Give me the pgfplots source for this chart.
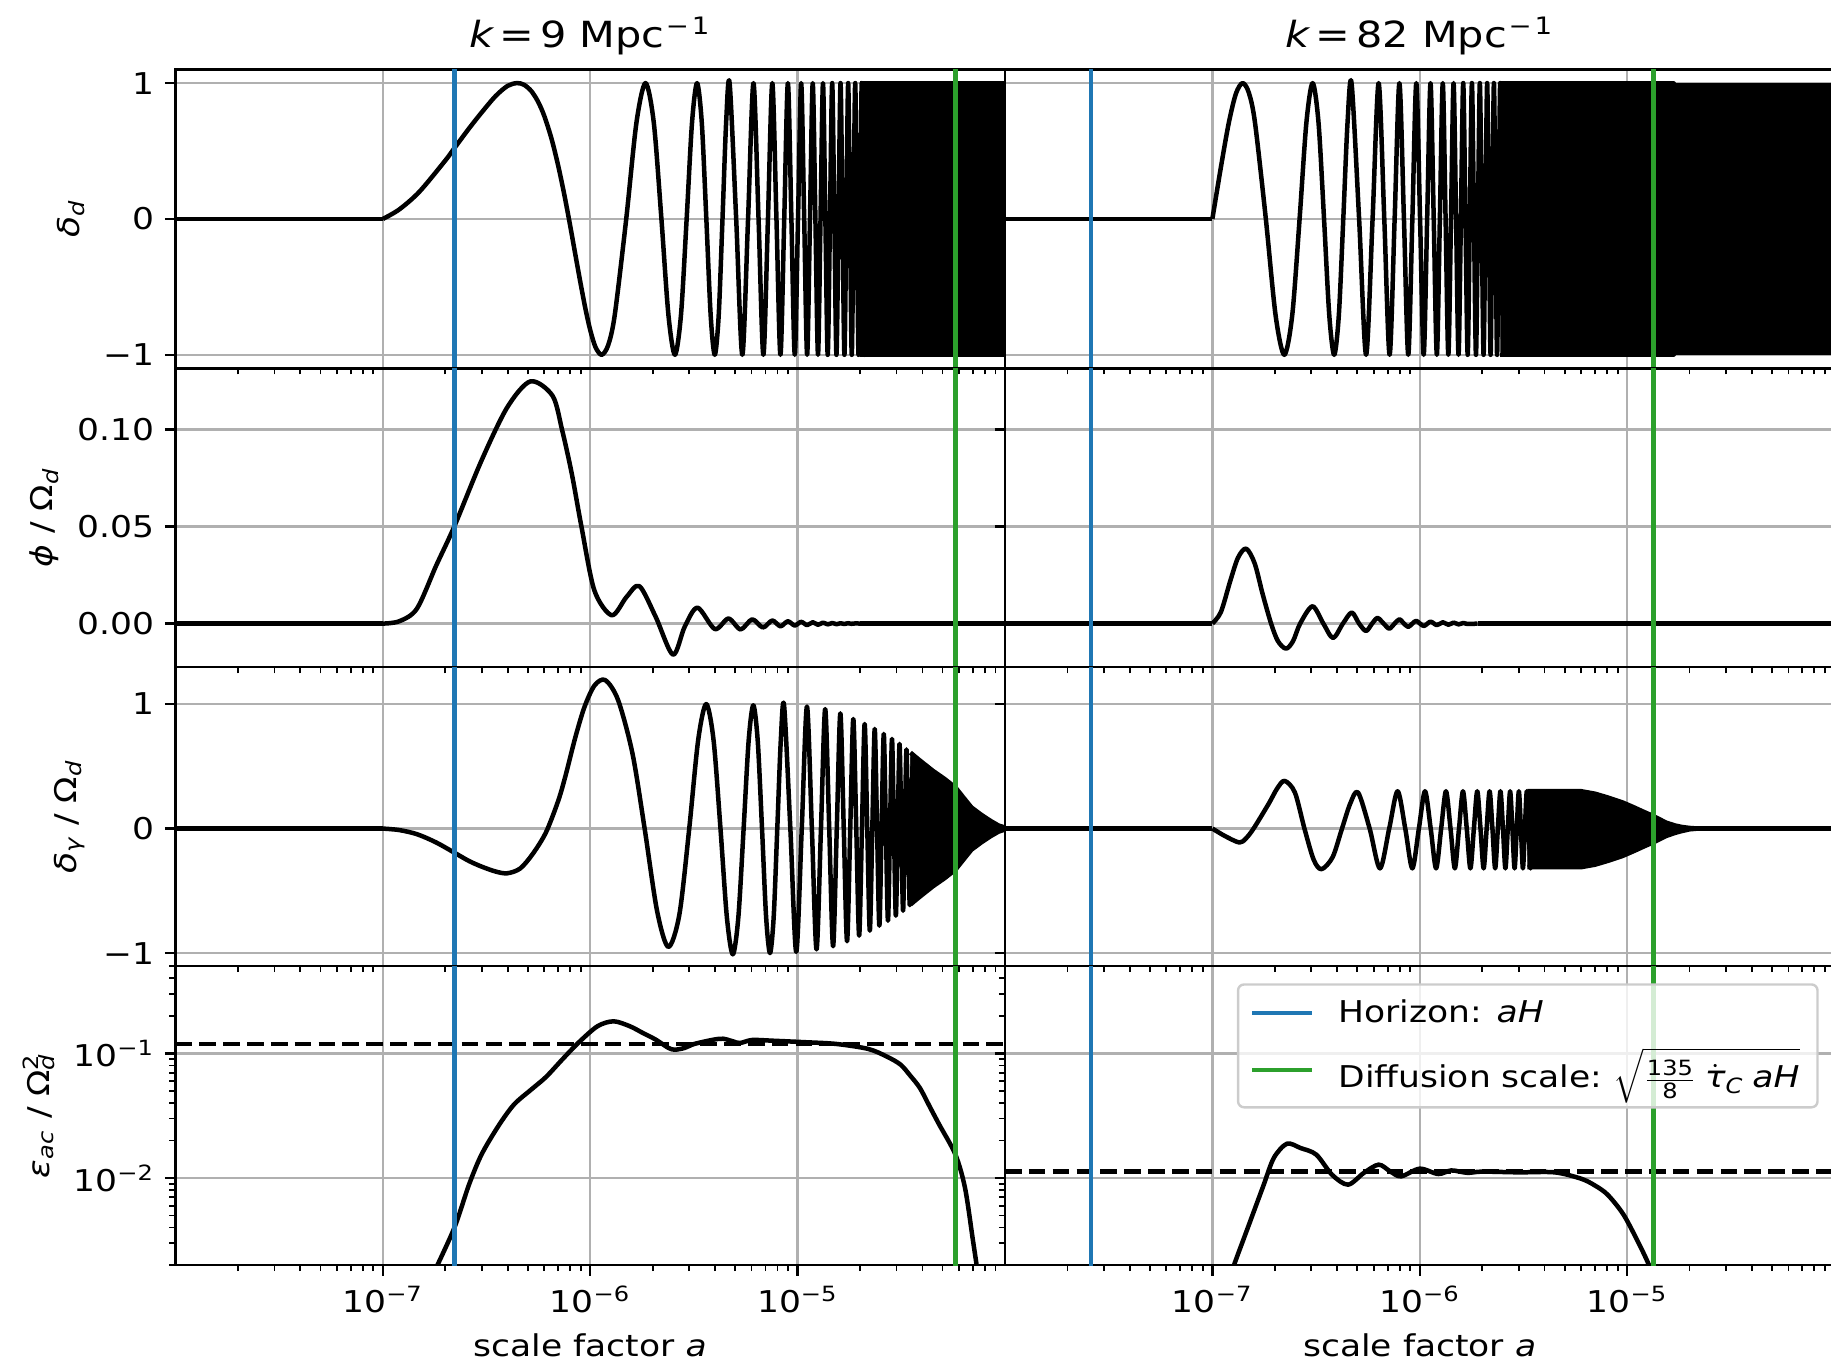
\documentclass[border=0pt]{standalone}
\usepackage{fontspec}
\setmainfont{DejaVu Sans}[FakeStretch=1.15,ItalicFont={DejaVu Sans Oblique},BoldFont={DejaVu Sans Bold}]
\usepackage{pgfplots}
\pgfplotsset{compat=1.18}
\definecolor{gridgray}{RGB}{176,176,176}
\definecolor{tabblue}{RGB}{31,119,180}
\definecolor{tabgreen}{RGB}{44,160,44}
\newcommand{\fs}{\fontsize{10}{12}\selectfont}
\pgfplotsset{
  panel/.style={
    scale only axis, width=276.5pt, height=99.63pt, anchor=north west,
    xmin=1e-8, xmax=1e-4,
    xtick={1e-7,1e-6,1e-5}, xticklabels={},
    minor xtick={2e-8,3e-8,4e-8,5e-8,6e-8,7e-8,8e-8,9e-8,2e-7,3e-7,4e-7,5e-7,6e-7,7e-7,8e-7,9e-7,2e-6,3e-6,4e-6,5e-6,6e-6,7e-6,8e-6,9e-6,2e-5,3e-5,4e-5,5e-5,6e-5,7e-5,8e-5,9e-5},
    grid=major, major grid style={gridgray, line width=0.8pt},
    tick align=outside, tick pos=left,
    major tick length=3.5pt, minor tick length=2pt,
    major tick style={black, line width=0.8pt}, minor tick style={black, line width=0.6pt},
    axis line style={line width=0.8pt},
    tick label style={font=\fs},
    label style={font=\fs},
    ylabel style={inner sep=2.6pt},
    title style={font=\fontsize{12}{14}\selectfont, anchor=base, yshift=1.4pt},
    clip=true,
  },
  rowA/.style={ymin=-1.1, ymax=1.1, ytick={-1,0,1}},
  rowB/.style={ymin=-0.0225, ymax=0.1315, ytick={0,0.05,0.1}},
  rowC/.style={ymin=-1.105, ymax=1.295, ytick={-1,0,1}},
  rowD/.style={ymin=0.002, ymax=0.5, ytick={0.01,0.1},
    minor ytick={0.002,0.003,0.004,0.005,0.006,0.007,0.008,0.009,0.02,0.03,0.04,0.05,0.06,0.07,0.08,0.09,0.2,0.3,0.4,0.5}},
  curve/.style={black, line width=1.5pt, line join=round},
  dense/.style={fill=black, draw=black, line width=1.5pt, line join=round},
  hz/.style={tabblue, line width=1.5pt},
  df/.style={tabgreen, line width=1.5pt},
}
\begin{document}
\begin{tikzpicture}
%================ column 1 ================
\begin{axis}[xmode=log, panel, rowA, at={(58.5pt,-23.17pt)},
  yticklabels={−1,0,1},
  title={{\itshape k}\hspace{2pt}=\hspace{2pt}9 Mpc\textsuperscript{\hspace{0.5pt}−\hspace{1pt}1}},
  ylabel={{\itshape δ}\textsubscript{\itshape d}}]
\addplot[curve] coordinates {(1e-8,0) (1e-7,0)};
\addplot[curve, smooth] coordinates {(1e-7,0) (1.2e-7,0.07) (1.5e-7,0.2) (2.0e-7,0.43) (2.21e-7,0.52) (2.6e-7,0.665) (3.0e-7,0.785) (3.5e-7,0.905) (4.0e-7,0.98) (4.44e-7,1) (4.8e-7,0.987) (5.2e-7,0.941) (5.6e-7,0.864) (6.0e-7,0.759) (6.5e-7,0.593) (7.0e-7,0.395) (7.5e-7,0.179) (8.0e-7,-0.048) (8.5e-7,-0.272) (9.0e-7,-0.481) (9.5e-7,-0.667) (1.0e-6,-0.818) (1.06e-6,-0.943) (1.135e-6,-1) (1.22e-6,-0.93) (1.313e-6,-0.707) (1.4915e-6,0) (1.670e-6,0.707) (1.848e-6,1) (2.026e-6,0.707) (2.2045e-6,0) (2.383e-6,-0.707) (2.561e-6,-1) (2.739e-6,-0.707) (2.9175e-6,0) (3.096e-6,0.707) (3.274e-6,1) (3.452e-6,0.707) (3.6305e-6,0) (3.809e-6,-0.707) (3.987e-6,-1) (4.165e-6,-0.707) (4.3435e-6,0) (4.522e-6,0.707) (4.700e-6,1) (5.0565e-6,0) (5.413e-6,-1) (5.7695e-6,0) (6.126e-6,1) (6.4825e-6,0) (6.839e-6,-1) (7.1955e-6,0) (7.552e-6,1) (7.9085e-6,0) (8.265e-6,-1) (8.6215e-6,0) (8.978e-6,1) (9.3345e-6,0) (9.691e-6,-1) (1.00475e-5,0) (1.0404e-5,1) (1.07605e-5,0) (1.1117e-5,-1) (1.14735e-5,0) (1.1830e-5,1) (1.21865e-5,0) (1.2543e-5,-1) (1.28995e-5,0) (1.3256e-5,1) (1.36125e-5,0) (1.3969e-5,-1) (1.43255e-5,0) (1.4682e-5,1) (1.50385e-5,0) (1.5395e-5,-1) (1.57515e-5,0) (1.6108e-5,1) (1.64645e-5,0) (1.6821e-5,-1) (1.71775e-5,0) (1.7534e-5,1) (1.78905e-5,0) (1.8247e-5,-1) (1.86035e-5,0) (1.8960e-5,1) (1.93165e-5,0) (1.9673e-5,-1) (2.00295e-5,0) (2.0386e-5,1) (2.07425e-5,0) (2.1099e-5,-1) (2.14555e-5,0) (2.1812e-5,1)};
\addplot[dense] coordinates {(2.0e-5,1) (1e-4,1) (1e-4,-1) (2.0e-5,-1)};
\addplot[hz] coordinates {(2.21e-7,-2) (2.21e-7,2)};
\addplot[df] coordinates {(5.77e-5,-2) (5.77e-5,2)};
\end{axis}

\begin{axis}[xmode=log, panel, rowB, at={(58.5pt,-122.80pt)},
  yticklabels={0.00,0.05,0.10},
  ylabel={{\itshape ϕ} / Ω\textsubscript{\itshape d}}]
\addplot[curve] coordinates {(1e-8,0) (1e-7,0)};
\addplot[curve, smooth] coordinates {(1e-7,0) (1.2e-7,0.0012) (1.46e-7,0.0077) (1.81e-7,0.030) (2.21e-7,0.050) (2.99e-7,0.084) (3.98e-7,0.1114) (5.15e-7,0.1248) (6.58e-7,0.1174) (7.31e-7,0.100) (8.15e-7,0.0772) (9.07e-7,0.050) (1.047e-6,0.0171) (1.27e-6,0.0043) (1.496e-6,0.0137) (1.726e-6,0.0193) (2.07e-6,0.0034) (2.505e-6,-0.016) (2.853e-6,-0.0017) (3.29e-6,0.0082) (3.99e-6,-0.0028) (4.64e-6,0.0026) (5.31e-6,-0.0030) (6.04e-6,0.0022) (6.80e-6,-0.0020) (7.55e-6,0.0016) (8.26e-6,-0.0014) (8.97e-6,0.0012) (9.69e-6,-0.0010) (1.040e-5,0.0009) (1.112e-5,-0.0008) (1.183e-5,0.0007) (1.254e-5,-0.0006) (1.326e-5,0.0005) (1.397e-5,-0.0004) (1.468e-5,0.0003) (1.54e-5,-0.0003) (1.61e-5,0.0002) (1.68e-5,-0.0002) (1.75e-5,0.0002) (1.82e-5,-0.0001) (1.9e-5,0.0001) (2.0e-5,0)};
\addplot[curve] coordinates {(2.0e-5,0) (1e-4,0)};
\addplot[hz] coordinates {(2.21e-7,-1) (2.21e-7,1)};
\addplot[df] coordinates {(5.77e-5,-1) (5.77e-5,1)};
\end{axis}

\begin{axis}[xmode=log, panel, rowC, at={(58.5pt,-222.43pt)},
  yticklabels={−1,0,1},
  ylabel={{\itshape δ}\textsubscript{\itshape γ} / Ω\textsubscript{\itshape d}}]
\addplot[curve] coordinates {(1e-8,0) (1e-7,0)};
\addplot[curve, smooth] coordinates {(1e-7,0) (1.2e-7,-0.012) (1.46e-7,-0.045) (1.8e-7,-0.11) (2.21e-7,-0.193) (2.6e-7,-0.26) (2.99e-7,-0.305) (3.5e-7,-0.345) (3.98e-7,-0.359) (4.6e-7,-0.32) (5.3e-7,-0.20) (6.12e-7,-0.03) (7.0e-7,0.22) (7.59e-7,0.42) (8.5e-7,0.74) (9.4e-7,0.98) (1.05e-6,1.15) (1.183e-6,1.192) (1.364e-6,1.03) (1.6e-6,0.60) (1.83e-6,0) (2.1e-6,-0.66) (2.38e-6,-0.95) (2.691e-6,-0.69) (3.0025e-6,0) (3.314e-6,0.707) (3.625e-6,1.0) (3.936e-6,0.707) (4.2475e-6,0) (4.559e-6,-0.71) (4.87e-6,-1.01) (5.181e-6,-0.71) (5.4925e-6,0) (5.804e-6,0.70) (6.115e-6,0.99) (6.426e-6,0.70) (6.7375e-6,0) (7.049e-6,-0.707) (7.36e-6,-1.0) (7.671e-6,-0.707) (7.9825e-6,0) (8.294e-6,0.70) (8.605e-6,0.99) (9.2275e-6,0) (9.85e-6,-0.99) (1.04725e-5,0) (1.1095e-5,0.98) (1.17175e-5,0) (1.234e-5,-0.97) (1.29625e-5,0) (1.3585e-5,0.96) (1.42075e-5,0) (1.483e-5,-0.945) (1.54525e-5,0) (1.6075e-5,0.925) (1.66975e-5,0) (1.732e-5,-0.905) (1.79425e-5,0) (1.8565e-5,0.88) (1.91875e-5,0) (1.981e-5,-0.86) (2.04325e-5,0) (2.1055e-5,0.84) (2.16775e-5,0) (2.23e-5,-0.82) (2.29225e-5,0) (2.3545e-5,0.80) (2.41675e-5,0) (2.479e-5,-0.78) (2.54125e-5,0) (2.6035e-5,0.76) (2.66575e-5,0) (2.728e-5,-0.74) (2.79025e-5,0) (2.8525e-5,0.72) (2.91475e-5,0) (2.977e-5,-0.70) (3.03925e-5,0) (3.1015e-5,0.68) (3.16375e-5,0) (3.226e-5,-0.66) (3.28825e-5,0) (3.3505e-5,0.635) (3.41275e-5,0) (3.475e-5,-0.615) (3.53725e-5,0) (3.5995e-5,0.595) (3.66175e-5,0) (3.724e-5,-0.58)};
\addplot[dense] coordinates {(3.5e-5,0.61) (3.8e-5,0.56) (4.49e-5,0.464) (5.1e-5,0.40) (5.77e-5,0.33) (6.3e-5,0.25) (6.89e-5,0.17) (7.7e-5,0.11) (8.55e-5,0.06) (9.3e-5,0.025) (1e-4,0.008) (1e-4,-0.008) (9.3e-5,-0.025) (8.55e-5,-0.06) (7.7e-5,-0.11) (6.89e-5,-0.17) (6.3e-5,-0.25) (5.77e-5,-0.33) (5.1e-5,-0.40) (4.49e-5,-0.464) (3.8e-5,-0.56) (3.5e-5,-0.61)};
\addplot[hz] coordinates {(2.21e-7,-2) (2.21e-7,2)};
\addplot[df] coordinates {(5.77e-5,-2) (5.77e-5,2)};
\end{axis}

\begin{axis}[xmode=log, ymode=log, panel, rowD, at={(58.5pt,-322.07pt)},
  xticklabels={10\textsuperscript{−7},10\textsuperscript{−6},10\textsuperscript{−5}},
  yticklabels={10\textsuperscript{−2},10\textsuperscript{−1}},
  xlabel={scale factor {\itshape a}},
  ylabel={{\itshape ε}\textsubscript{\itshape ac} / Ω\rlap{\textsubscript{\itshape d}}\textsuperscript{2}}]
\addplot[curve, smooth] coordinates {(1.75e-7,0.0017) (2.21e-7,0.00397) (2.6e-7,0.0088) (2.99e-7,0.0154) (3.6e-7,0.026) (4.28e-7,0.0387) (5.2e-7,0.0513) (6.12e-7,0.0646) (7.32e-7,0.089) (8.75e-7,0.1212) (1.084e-6,0.165) (1.297e-6,0.1807) (1.552e-6,0.165) (1.79e-6,0.146) (2.07e-6,0.1288) (2.384e-6,0.1105) (2.56e-6,0.107) (2.853e-6,0.1105) (3.18e-6,0.119) (3.94e-6,0.1288) (4.38e-6,0.131) (4.88e-6,0.1248) (5.27e-6,0.121) (6.04e-6,0.128) (7.5e-6,0.1264) (1.07e-5,0.123) (1.534e-5,0.119) (2.19e-5,0.1085) (2.7e-5,0.094) (3.14e-5,0.0811) (3.5e-5,0.066) (3.89e-5,0.0527) (4.35e-5,0.037) (4.82e-5,0.0268) (5.77e-5,0.0154) (6.42e-5,0.0083) (7.0e-5,0.0032) (7.3e-5,0.0020) (7.5e-5,0.0014)};
\addplot[black, line width=1.5pt, dash pattern=on 5.55pt off 2.4pt] coordinates {(1e-8,0.119) (1e-4,0.119)};
\addplot[hz] coordinates {(2.21e-7,1e-4) (2.21e-7,10)};
\addplot[df] coordinates {(5.77e-5,1e-4) (5.77e-5,10)};
\end{axis}

%================ column 2 ================
\begin{axis}[xmode=log, panel, rowA, at={(335pt,-23.17pt)}, yticklabels={},
  title={{\itshape k}\hspace{2pt}=\hspace{2pt}82 Mpc\textsuperscript{\hspace{0.5pt}−\hspace{1pt}1}}]
\addplot[curve] coordinates {(1e-8,0) (1e-7,0)};
\addplot[curve, smooth] coordinates {(1e-7,0) (1.1e-7,0.383) (1.2e-7,0.707) (1.3e-7,0.924) (1.4e-7,1) (1.5e-7,0.928) (1.606e-7,0.707) (1.811e-7,0) (2.017e-7,-0.707) (2.2225e-7,-1) (2.428e-7,-0.707) (2.634e-7,0) (2.84e-7,0.707) (3.045e-7,1) (3.251e-7,0.707) (3.456e-7,0) (3.662e-7,-0.707) (3.8675e-7,-1) (4.073e-7,-0.707) (4.279e-7,0) (4.485e-7,0.707) (4.69e-7,1) (5.101e-7,0) (5.5125e-7,-1) (5.924e-7,0) (6.335e-7,1) (6.746e-7,0) (7.1575e-7,-1) (7.569e-7,0) (7.98e-7,1) (8.391e-7,0) (8.8025e-7,-1) (9.214e-7,0) (9.625e-7,1) (1.0036e-6,0) (1.04475e-6,-1) (1.0859e-6,0) (1.127e-6,1) (1.1681e-6,0) (1.20925e-6,-1) (1.2504e-6,0) (1.2915e-6,1) (1.3326e-6,0) (1.37375e-6,-1) (1.4149e-6,0) (1.456e-6,1) (1.4971e-6,0) (1.53825e-6,-1) (1.5794e-6,0) (1.6205e-6,1) (1.6616e-6,0) (1.70275e-6,-1) (1.7439e-6,0) (1.785e-6,1) (1.8261e-6,0) (1.86725e-6,-1) (1.9084e-6,0) (1.9495e-6,1) (1.9906e-6,0) (2.03175e-6,-1) (2.0729e-6,0) (2.114e-6,1) (2.1551e-6,0) (2.19625e-6,-1) (2.2374e-6,0) (2.2785e-6,1) (2.3196e-6,0) (2.36075e-6,-1) (2.4019e-6,0) (2.443e-6,1) (2.4841e-6,0) (2.52525e-6,-1)};
\addplot[dense] coordinates {(2.45e-6,1) (1.67e-5,1) (1.67e-5,0.985) (1e-4,0.985) (1e-4,-0.985) (1.67e-5,-0.985) (1.67e-5,-1) (2.45e-6,-1)};
\addplot[hz] coordinates {(2.60e-8,-2) (2.60e-8,2)};
\addplot[df] coordinates {(1.34e-5,-2) (1.34e-5,2)};
\end{axis}

\begin{axis}[xmode=log, panel, rowB, at={(335pt,-122.80pt)}, yticklabels={}]
\addplot[curve] coordinates {(1e-8,0) (1e-7,0)};
\addplot[curve, smooth] coordinates {(1e-7,0) (1.1e-7,0.006) (1.22e-7,0.022) (1.33e-7,0.034) (1.456e-7,0.0386) (1.6e-7,0.031) (1.75e-7,0.015) (1.92e-7,0) (2.07e-7,-0.009) (2.265e-7,-0.0129) (2.45e-7,-0.009) (2.65e-7,0) (3.04e-7,0.0089) (3.43e-7,0) (3.82e-7,-0.0074) (4.26e-7,0) (4.70e-7,0.0057) (5.10e-7,0) (5.51e-7,-0.0038) (5.89e-7,0) (6.26e-7,0.0029) (6.70e-7,0) (7.13e-7,-0.0026) (7.56e-7,0) (7.98e-7,0.0022) (8.39e-7,0) (8.80e-7,-0.0017) (9.21e-7,0) (9.63e-7,0.0014) (1.045e-6,-0.0012) (1.127e-6,0.0010) (1.209e-6,-0.0008) (1.292e-6,0.0007) (1.374e-6,-0.0006) (1.456e-6,0.0005) (1.538e-6,-0.0004) (1.62e-6,0.0003) (1.703e-6,-0.0002) (1.9e-6,0)};
\addplot[curve] coordinates {(1.9e-6,0) (1e-4,0)};
\addplot[hz] coordinates {(2.60e-8,-1) (2.60e-8,1)};
\addplot[df] coordinates {(1.34e-5,-1) (1.34e-5,1)};
\end{axis}

\begin{axis}[xmode=log, panel, rowC, at={(335pt,-222.43pt)}, yticklabels={}]
\addplot[curve] coordinates {(1e-8,0) (1e-7,0)};
\addplot[curve, smooth] coordinates {(1e-7,0) (1.15e-7,-0.06) (1.349e-7,-0.112) (1.45e-7,-0.08) (1.58e-7,0) (1.87e-7,0.20) (2.05e-7,0.32) (2.23e-7,0.383) (2.5e-7,0.29) (2.78e-7,0) (3.08e-7,-0.25) (3.36e-7,-0.326) (3.8e-7,-0.23) (4.2e-7,-0.01) (4.62e-7,0.20) (5.04e-7,0.29) (5.735e-7,0) (6.43e-7,-0.32) (7.125e-7,0) (7.82e-7,0.30) (8.515e-7,0) (9.21e-7,-0.32) (9.905e-7,0) (1.06e-6,0.30) (1.1295e-6,0) (1.199e-6,-0.32) (1.2685e-6,0) (1.338e-6,0.30) (1.4075e-6,0) (1.477e-6,-0.32) (1.5465e-6,0) (1.616e-6,0.30) (1.6855e-6,0) (1.755e-6,-0.32) (1.8245e-6,0) (1.894e-6,0.30) (1.9635e-6,0) (2.033e-6,-0.32) (2.1025e-6,0) (2.172e-6,0.30) (2.2415e-6,0) (2.311e-6,-0.32) (2.3805e-6,0) (2.45e-6,0.30) (2.5195e-6,0) (2.589e-6,-0.32) (2.6585e-6,0) (2.728e-6,0.30) (2.7975e-6,0) (2.867e-6,-0.32) (2.9365e-6,0) (3.006e-6,0.30) (3.0755e-6,0) (3.145e-6,-0.32) (3.2145e-6,0) (3.284e-6,0.30) (3.3535e-6,0) (3.423e-6,-0.32) (3.4925e-6,0) (3.562e-6,0.30)};
\addplot[dense] coordinates {(3.3e-6,0.30) (6.0e-6,0.30) (7.0e-6,0.28) (8.05e-6,0.25) (9.5e-6,0.21) (1.08e-5,0.17) (1.2e-5,0.135) (1.34e-5,0.10) (1.54e-5,0.048) (1.7e-5,0.025) (1.835e-5,0.013) (2.0e-5,0.005) (2.2e-5,0) (2.0e-5,-0.006) (1.835e-5,-0.02) (1.7e-5,-0.035) (1.54e-5,-0.06) (1.34e-5,-0.11) (1.2e-5,-0.145) (1.08e-5,-0.18) (9.5e-6,-0.22) (8.05e-6,-0.26) (7.0e-6,-0.29) (6.0e-6,-0.31) (3.3e-6,-0.31)};
\addplot[curve] coordinates {(2.0e-5,0) (1e-4,0)};
\addplot[hz] coordinates {(2.60e-8,-2) (2.60e-8,2)};
\addplot[df] coordinates {(1.34e-5,-2) (1.34e-5,2)};
\end{axis}

\begin{axis}[xmode=log, ymode=log, panel, rowD, at={(335pt,-322.07pt)}, yticklabels={},
  xticklabels={10\textsuperscript{−7},10\textsuperscript{−6},10\textsuperscript{−5}},
  xlabel={scale factor {\itshape a}},
  legend image code/.code={\draw[#1] (0pt,0pt) -- (20pt,0pt);},
  legend cell align=left,
  legend style={at={(0.981,0.943)}, anchor=north east, font=\fs,
    draw=black!20, line width=0.8pt, rounded corners=2pt,
    fill=white, fill opacity=0.8, draw opacity=1, text opacity=1,
    inner xsep=4pt, inner ysep=3pt, row sep=3pt,
    /tikz/every odd column/.append style={column sep=6pt}}]
\addplot[curve, smooth, forget plot] coordinates {(1.25e-7,0.0017) (1.272e-7,0.002) (1.475e-7,0.0039) (1.759e-7,0.0086) (1.979e-7,0.0145) (2.29e-7,0.01885) (2.66e-7,0.0174) (3.17e-7,0.0154) (3.78e-7,0.0106) (4.51e-7,0.00884) (5.38e-7,0.011) (6.34e-7,0.0128) (7.2e-7,0.0113) (8.12e-7,0.0103) (1.0e-6,0.01188) (1.227e-6,0.01076) (1.42e-6,0.0115) (1.7e-6,0.0110) (2.0e-6,0.01125) (3.0e-6,0.0111) (4.47e-6,0.0111) (6.0e-6,0.00987) (7.0e-6,0.0087) (8.05e-6,0.00735) (9.61e-6,0.00508) (1.146e-5,0.00292) (1.275e-5,0.0020) (1.33e-5,0.0016)};
\addplot[black, line width=1.5pt, dash pattern=on 5.55pt off 2.4pt, forget plot] coordinates {(1e-8,0.0113) (1e-4,0.0113)};
\addplot[hz] coordinates {(2.60e-8,1e-4) (2.60e-8,10)};
\addlegendentry{Horizon: {\itshape aH}}
\addplot[df] coordinates {(1.34e-5,1e-4) (1.34e-5,10)};
\addlegendentry{Diffusion scale:\ $\sqrt{\rule[-5pt]{0pt}{17pt}\frac{\mbox{\fontsize{7}{7}\selectfont 135}}{\mbox{\fontsize{7}{7}\selectfont 8}}\;\dot{\mbox{\itshape τ}}_{\mbox{\fontsize{7}{7}\selectfont\itshape C}}\;\mbox{\itshape aH}}$}
\end{axis}

\pgfresetboundingbox
\path[use as bounding box] (0pt,0pt) rectangle (610.33pt,-456.67pt);
\end{tikzpicture}
\end{document}
